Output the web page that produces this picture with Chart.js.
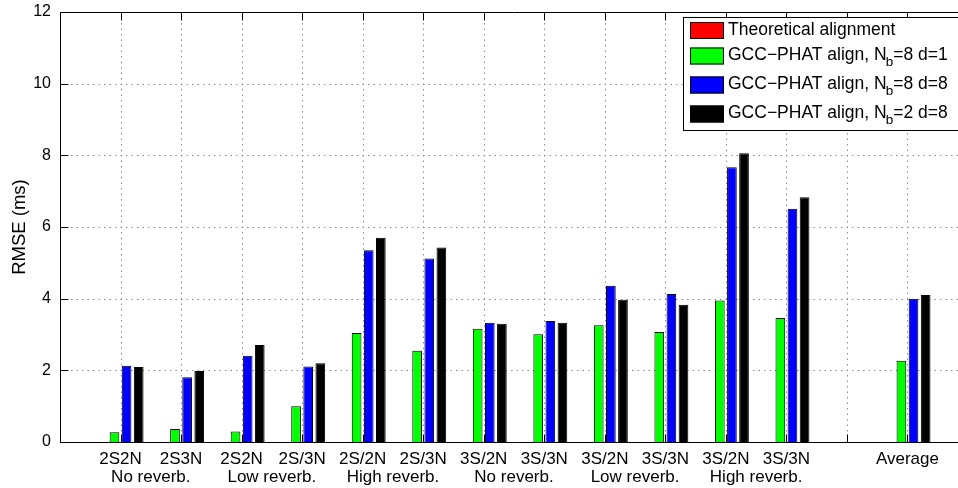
<!DOCTYPE html>
<html>
<head>
<meta charset="utf-8">
<script src="https://cdn.jsdelivr.net/npm/chart.js@4/dist/chart.umd.min.js"></script>
<style>
  html, body { margin: 0; padding: 0; background: #fff; overflow: hidden; }
  #wrap { width: 968px; height: 488px; position: relative; }
</style>
</head>
<body>
<div id="wrap"><canvas id="c"></canvas></div>
<script>
// Mixture conditions (speakers/noises) and the reverberation level of each pair
const conditions = ['2S2N', '2S3N', '2S2N', '2S/3N', '2S/2N', '2S/3N',
                    '3S/2N', '3S/3N', '3S/2N', '3S/3N', '3S/2N', '3S/3N'];
const reverbLevels = ['No reverb.', 'Low reverb.', 'High reverb.',
                      'No reverb.', 'Low reverb.', 'High reverb.'];
const averageLabel = 'Average';

// RMSE (ms) per condition, last entry is the average
const theoretical = [0, 0, 0, 0, 0, 0, 0, 0, 0, 0, 0, 0, 0];
const gccNb8d1 = [0.27, 0.36, 0.29, 1.00, 3.04, 2.55, 3.16, 3.01, 3.26, 3.07, 3.95, 3.46, 2.27];
const gccNb8d8 = [2.13, 1.81, 2.41, 2.11, 5.35, 5.12, 3.33, 3.38, 4.36, 4.13, 7.67, 6.51, 4.00];
const gccNb2d8 = [2.09, 1.98, 2.71, 2.20, 5.70, 5.43, 3.30, 3.33, 3.97, 3.83, 8.06, 6.83, 4.10];

const yTicks = [0, 2, 4, 6, 8, 10, 12];

const seriesNames = ['Theoretical alignment',
                     ['GCC\u2212PHAT align, N', 'b', '=8 d=1'],
                     ['GCC\u2212PHAT align, N', 'b', '=8 d=8'],
                     ['GCC\u2212PHAT align, N', 'b', '=2 d=8']];
const seriesColors = ['#ff0000', '#00ff00', '#0000ff', '#000000'];

// x positions run 0..15: conditions at 1..12, empty slot at 13, average at 14
const labels = [''].concat(conditions, [''], [averageLabel], ['']);
function place(values) {
  return [null].concat(values.slice(0, 12), [null], [values[12]], [null]);
}
const seriesValues = [theoretical, gccNb8d1, gccNb8d8, gccNb2d8];

const FONT = '"Liberation Sans", Arial, Helvetica, sans-serif';

const matlabAxes = {
  id: 'matlabAxes',
  beforeDatasetsDraw(chart) {
    const { ctx, chartArea: a, scales: { x, y } } = chart;
    ctx.save();
    ctx.strokeStyle = '#8c8c8c';
    ctx.lineWidth = 1;
    ctx.setLineDash([1.5, 4]);
    yTicks.forEach(v => {
      if (v === 0 || v === 12) return;
      const py = Math.round(y.getPixelForValue(v)) + 0.5;
      ctx.beginPath(); ctx.moveTo(a.left, py); ctx.lineTo(a.right, py); ctx.stroke();
    });
    for (let i = 1; i <= 14; i++) {
      const px = Math.round(x.getPixelForValue(i)) + 0.5;
      ctx.beginPath(); ctx.moveTo(px, a.top); ctx.lineTo(px, a.bottom); ctx.stroke();
    }
    ctx.restore();
  },
  afterDatasetsDraw(chart) {
    const { ctx, chartArea: a, scales: { x, y } } = chart;
    ctx.save();
    ctx.strokeStyle = '#000';
    ctx.lineWidth = 1;
    ctx.setLineDash([]);
    const L = Math.round(a.left) + 0.5, T = Math.round(a.top) + 0.5, B = Math.round(a.bottom) + 0.5;
    ctx.beginPath();
    ctx.moveTo(a.right, T); ctx.lineTo(L, T); ctx.lineTo(L, B); ctx.lineTo(a.right, B);
    ctx.stroke();
    // inward tick marks
    yTicks.forEach(v => {
      const py = Math.round(y.getPixelForValue(v)) + 0.5;
      ctx.beginPath(); ctx.moveTo(L, py); ctx.lineTo(L + 8, py); ctx.stroke();
    });
    for (let i = 1; i <= 14; i++) {
      const px = Math.round(x.getPixelForValue(i)) + 0.5;
      ctx.beginPath(); ctx.moveTo(px, T); ctx.lineTo(px, T + 8); ctx.stroke();
      ctx.beginPath(); ctx.moveTo(px, B); ctx.lineTo(px, B - 8); ctx.stroke();
    }
    ctx.restore();
  },
  afterDraw(chart) {
    const { ctx, chartArea: a, scales: { x } } = chart;
    ctx.save();
    ctx.fillStyle = '#000';
    // reverberation level under each pair of conditions
    ctx.font = '17px ' + FONT;
    ctx.textAlign = 'center';
    ctx.textBaseline = 'middle';
    reverbLevels.forEach((lvl, k) => {
      const px = (x.getPixelForValue(2 * k + 1) + x.getPixelForValue(2 * k + 2)) / 2;
      ctx.fillText(lvl, px, 477);
    });
    // y axis title
    ctx.save();
    ctx.translate(20, (a.top + a.bottom) / 2);
    ctx.rotate(-Math.PI / 2);
    ctx.font = '18.5px ' + FONT;
    ctx.fillText('RMSE (ms)', 0, 0);
    ctx.restore();
    // legend box
    const bx = 683.5, by = 17.5, bw = 300, bh = 113;
    ctx.fillStyle = '#fff';
    ctx.fillRect(bx, by, bw, bh);
    ctx.strokeStyle = '#000';
    ctx.lineWidth = 1;
    ctx.strokeRect(bx, by, bw, bh);
    const rows = [30, 55.5, 84.5, 113.5];
    seriesNames.forEach((name, i) => {
      const cy = rows[i];
      ctx.fillStyle = seriesColors[i];
      ctx.fillRect(690, cy - 8, 34, 17);
      ctx.strokeStyle = '#000';
      ctx.strokeRect(690.5, cy - 7.5, 33, 16);
      ctx.fillStyle = '#000';
      ctx.textAlign = 'left';
      ctx.textBaseline = 'middle';
      ctx.font = '17.5px ' + FONT;
      if (typeof name === 'string') {
        ctx.fillText(name, 728, cy);
      } else {
        let tx = 728;
        ctx.fillText(name[0], tx, cy);
        tx += ctx.measureText(name[0]).width;
        ctx.font = '13.5px ' + FONT;
        ctx.fillText(name[1], tx - 1, cy + 7);
        tx += ctx.measureText(name[1]).width - 1;
        ctx.font = '17.5px ' + FONT;
        ctx.fillText(name[2], tx, cy);
      }
    });
    ctx.restore();
  }
};

new Chart(document.getElementById('c'), {
  type: 'bar',
  data: {
    labels: labels,
    datasets: seriesValues.map((vals, i) => ({
      label: typeof seriesNames[i] === 'string' ? seriesNames[i] : seriesNames[i].join(''),
      data: place(vals),
      backgroundColor: seriesColors[i],
      borderColor: '#000',
      borderWidth: 1,
      borderSkipped: 'bottom',
      categoryPercentage: 0.8,
      barPercentage: 0.8
    }))
  },
  options: {
    responsive: true,
    maintainAspectRatio: false,
    animation: false,
    devicePixelRatio: 1,
    layout: { padding: { top: 12, right: 0, left: 0, bottom: 0 } },
    plugins: { legend: { display: false }, tooltip: { enabled: false } },
    scales: {
      x: {
        type: 'category',
        offset: false,
        grid: { display: false },
        border: { display: false },
        ticks: {
          autoSkip: false, maxRotation: 0, minRotation: 0, padding: -1,
          color: '#000', font: { family: FONT, size: 17 }
        },
        afterFit(s) { s.height = 46; }
      },
      y: {
        min: 0, max: 12,
        grid: { display: false },
        border: { display: false },
        afterBuildTicks(s) { s.ticks = yTicks.map(v => ({ value: v })); },
        ticks: { padding: 1, color: '#000', font: { family: FONT, size: 16 } },
        afterFit(s) { s.width = 60; }
      }
    }
  },
  plugins: [matlabAxes]
});
</script>
</body>
</html>
